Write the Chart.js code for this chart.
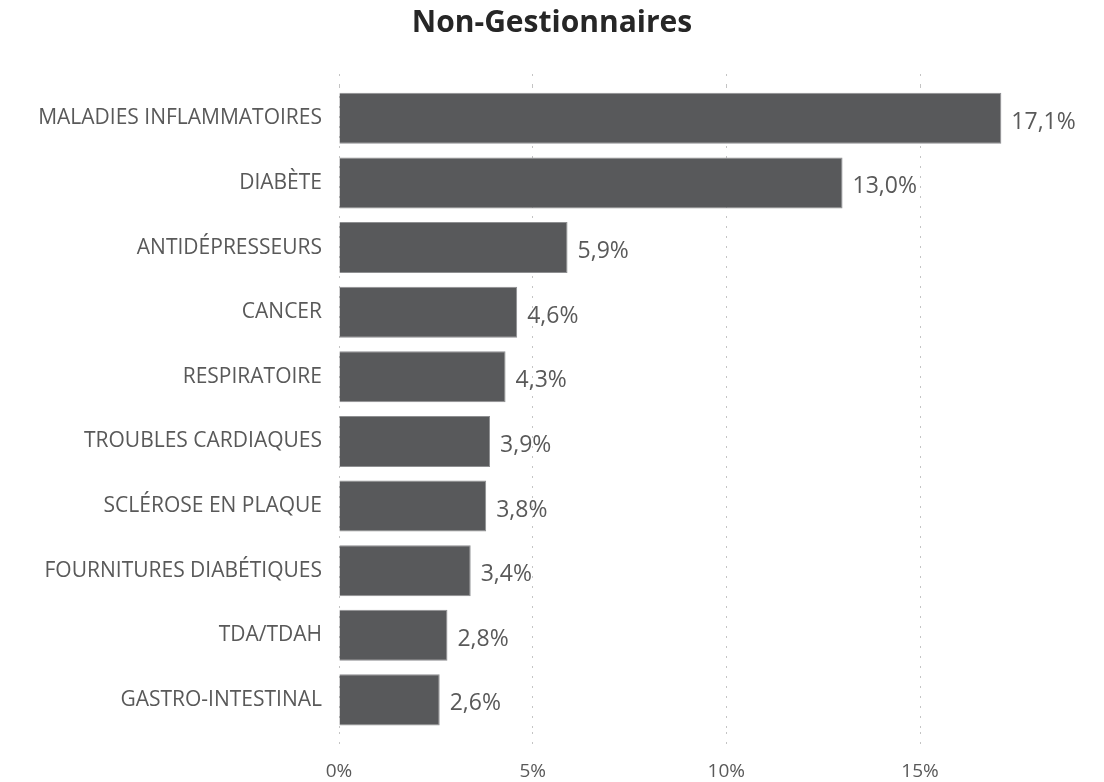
<!DOCTYPE html>
<html>
<head>
<meta charset="utf-8">
<script src="https://cdn.jsdelivr.net/npm/chart.js@4/dist/chart.umd.min.js"></script>
<style>
  html, body { margin: 0; padding: 0; background: #ffffff; }
  #wrap { width: 1104px; height: 782px; }
</style>
</head>
<body>
<div id="wrap"><canvas id="chart"></canvas></div>
<script>
// Chart data
const categories = [
  "MALADIES INFLAMMATOIRES",
  "DIABÈTE",
  "ANTIDÉPRESSEURS",
  "CANCER",
  "RESPIRATOIRE",
  "TROUBLES CARDIAQUES",
  "SCLÉROSE EN PLAQUE",
  "FOURNITURES DIABÉTIQUES",
  "TDA/TDAH",
  "GASTRO-INTESTINAL"
];
const shares = [17.1, 13.0, 5.9, 4.6, 4.3, 3.9, 3.8, 3.4, 2.8, 2.6];
const xTicks = [0, 5, 10, 15];
const xMax = 19.75;

const textColor = "#595959";
const barColor = "#58595b";
const gridColor = "#c4c4c4";
const fontFamily = "'Open Sans', sans-serif";

// French style percent: 17,1%
const fmtPct = v => v.toFixed(1).replace(".", ",") + "%";

// Value labels to the right of each bar
const valueLabels = {
  id: "valueLabels",
  afterDatasetsDraw(chart) {
    const { ctx } = chart;
    const meta = chart.getDatasetMeta(0);
    ctx.save();
    ctx.fillStyle = textColor;
    ctx.font = "23px " + fontFamily;
    ctx.textAlign = "left";
    ctx.textBaseline = "middle";
    meta.data.forEach((bar, i) => {
      ctx.fillText(fmtPct(shares[i]), bar.x + 10, bar.y + 4);
    });
    ctx.restore();
  }
};

const keepTicks = scale => {
  scale.ticks = scale.ticks.filter(t => xTicks.includes(t.value));
};

new Chart(document.getElementById("chart"), {
  type: "bar",
  data: {
    labels: categories,
    datasets: [{
      data: shares,
      backgroundColor: barColor,
      borderColor: "#8e8f91",
      borderWidth: 1,
      categoryPercentage: 1,
      barPercentage: 0.79
    }]
  },
  options: {
    indexAxis: "y",
    responsive: true,
    maintainAspectRatio: false,
    animation: false,
    layout: { padding: { left: 0, right: 0, top: 0, bottom: -10 } },
    plugins: {
      legend: { display: false },
      tooltip: { enabled: false },
      title: {
        display: true,
        text: "Non-Gestionnaires",
        color: "#262626",
        font: { family: fontFamily, size: 30, weight: "bold" },
        padding: { top: 5, bottom: 33 }
      }
    },
    scales: {
      x: {
        type: "linear",
        position: "bottom",
        min: 0,
        max: xMax,
        afterBuildTicks: keepTicks,
        border: { display: false, dash: [2, 8] },
        grid: {
          color: gridColor,
          lineWidth: 1,
          tickBorderDash: [2, 8],
          tickLength: 19,
          drawTicks: true
        },
        ticks: {
          stepSize: 5,
          autoSkip: false,
          color: textColor,
          font: { family: fontFamily, size: 19 },
          padding: 9,
          callback: v => v + "%"
        }
      },
      xTop: {
        type: "linear",
        position: "top",
        min: 0,
        max: xMax,
        afterBuildTicks: keepTicks,
        border: { display: false },
        grid: {
          color: gridColor,
          drawOnChartArea: false,
          tickBorderDash: [2, 8],
          tickLength: 12
        },
        ticks: { display: false, stepSize: 5, autoSkip: false }
      },
      y: {
        afterFit: scale => { scale.width = 339; },
        border: { display: false },
        grid: { display: false, drawTicks: false },
        ticks: {
          color: textColor,
          font: { family: fontFamily, size: 21 },
          padding: 17
        }
      }
    }
  },
  plugins: [valueLabels]
});
</script>
</body>
</html>
